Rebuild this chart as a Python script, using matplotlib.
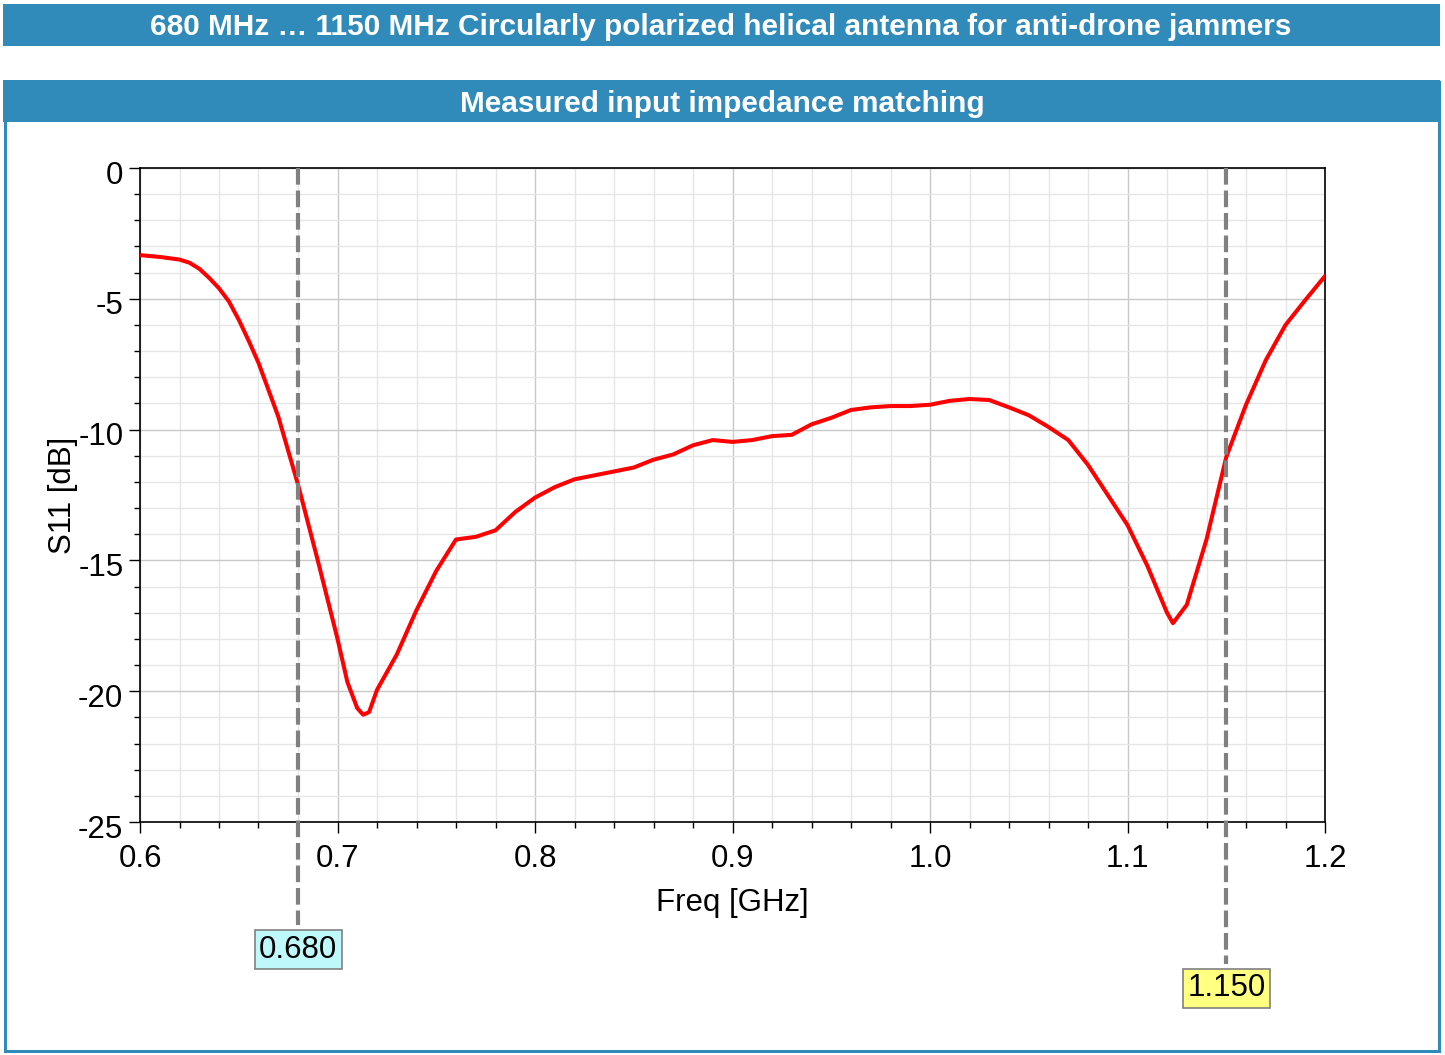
import numpy as np
import matplotlib.pyplot as plt
import matplotlib.transforms as mtransforms
from matplotlib.patches import Rectangle
from matplotlib.ticker import MultipleLocator, FormatStrFormatter

# measured S11
freq = [0.600, 0.610, 0.620, 0.625, 0.630, 0.635, 0.640, 0.645, 0.650, 0.655,
        0.660, 0.670, 0.680, 0.690,
        0.700, 0.705, 0.710, 0.713, 0.716, 0.720, 0.730, 0.740, 0.750, 0.760,
        0.770, 0.780, 0.790, 0.800, 0.810, 0.820, 0.830, 0.840, 0.850, 0.860,
        0.870, 0.880, 0.890, 0.900, 0.910, 0.920, 0.930, 0.940, 0.950, 0.960,
        0.970, 0.980, 0.990, 1.000, 1.010, 1.020, 1.030, 1.040, 1.050, 1.060,
        1.070, 1.080, 1.090, 1.100, 1.110, 1.120, 1.123, 1.130, 1.140, 1.150,
        1.160, 1.170, 1.180, 1.190, 1.200]
s11 = [-3.33, -3.40, -3.50, -3.62, -3.85, -4.2, -4.6, -5.1, -5.8, -6.6,
       -7.45, -9.5, -12.1, -15.0,
       -18.0, -19.65, -20.65, -20.9, -20.8, -19.95, -18.6, -16.9, -15.4, -14.2,
       -14.1, -13.85, -13.15, -12.6, -12.2, -11.9, -11.75, -11.6, -11.45, -11.15,
       -10.95, -10.6, -10.4, -10.47, -10.4, -10.25, -10.2, -9.8, -9.55, -9.25,
       -9.15, -9.1, -9.1, -9.05, -8.9, -8.83, -8.87, -9.15, -9.45, -9.9,
       -10.4, -11.35, -12.5, -13.65, -15.2, -17.0, -17.4, -16.7, -14.2, -11.05,
       -9.05, -7.35, -6.0, -5.05, -4.13]

markers = [0.680, 1.150]
marker_labels = ['0.680', '1.150']
marker_colors = ['#bff8fb', '#ffff80']

main_title = '680 MHz \u2026 1150 MHz Circularly polarized helical antenna for anti-drone jammers'
panel_title = 'Measured input impedance matching'

blue = '#318BBA'
W, H = 1445, 1055

plt.rcParams['font.family'] = ['Liberation Sans', 'DejaVu Sans']

fig = plt.figure(figsize=(W / 100, H / 100), dpi=100)


def px_rect(x0, y0, x1, y1, **kw):
    # rectangle given in pixel coords (top-left origin)
    r = Rectangle((x0 / W, 1 - y1 / H), (x1 - x0) / W, (y1 - y0) / H,
                  transform=fig.transFigure, **kw)
    fig.patches.append(r)


# header bars and panel frame
px_rect(3, 4, 1440, 46, facecolor=blue, edgecolor='none')
px_rect(4.5, 81.5, 1438.5, 1050.5, facecolor='none', edgecolor=blue, linewidth=2.2)
px_rect(3, 80, 1440, 122, facecolor=blue, edgecolor='none')
fig.text(721 / W, 1 - 27 / H, main_title, color='white', fontsize=21.4,
         fontweight='bold', ha='center', va='center')
fig.text(722 / W, 1 - 104 / H, panel_title, color='white', fontsize=21.4,
         fontweight='bold', ha='center', va='center')

ax = fig.add_axes([140 / W, 1 - 822 / H, (1325 - 140) / W, (822 - 168) / H])
ax.plot(freq, s11, color='#ff0000', linewidth=2.9, zorder=3,
        solid_joinstyle='round', solid_capstyle='round')

ax.set_xlim(0.6, 1.2)
ax.set_ylim(-25, 0)
ax.xaxis.set_major_locator(MultipleLocator(0.1))
ax.xaxis.set_minor_locator(MultipleLocator(0.02))
ax.yaxis.set_major_locator(MultipleLocator(5))
ax.yaxis.set_minor_locator(MultipleLocator(1))
ax.xaxis.set_major_formatter(FormatStrFormatter('%.1f'))
ax.yaxis.set_major_formatter(FormatStrFormatter('%d'))
ax.grid(which='major', color='#c8c8c8', linewidth=1.0)
ax.grid(which='minor', color='#e6e6e6', linewidth=1.0)
ax.set_axisbelow(True)
ax.tick_params(which='major', length=8, width=1, labelsize=22.5, pad=4)
ax.tick_params(axis='x', which='major', pad=8)
ax.tick_params(which='minor', length=4, width=1)
for sp in ax.spines.values():
    sp.set_linewidth(1.2)

# y tick labels sit a little below their ticks in the reference
shift = mtransforms.ScaledTranslation(0, -4 / 100, fig.dpi_scale_trans)
for lab in ax.get_yticklabels():
    lab.set_transform(lab.get_transform() + shift)

ax.set_xlabel('Freq [GHz]', fontsize=22.5, labelpad=10)
ax.set_ylabel('S11 [dB]', fontsize=22.5, labelpad=0)

# marker lines with value boxes
trans = ax.get_xaxis_transform()
box_y = [-0.19, -0.249]
line_end = [-0.157, -0.217]
for m, lab, c, by, le in zip(markers, marker_labels, marker_colors, box_y, line_end):
    ax.plot([m, m], [1, le], transform=trans, color='#808080', linewidth=3,
            linestyle=(0, (4, 1.4)), clip_on=False, zorder=4)
    ax.text(m, by, lab, transform=trans, fontsize=22.5, ha='center', va='center_baseline',
            bbox=dict(boxstyle='square,pad=0.14', facecolor=c, edgecolor='#808080',
                      linewidth=1.2), zorder=5)

fig.savefig('out.png', dpi=100)
